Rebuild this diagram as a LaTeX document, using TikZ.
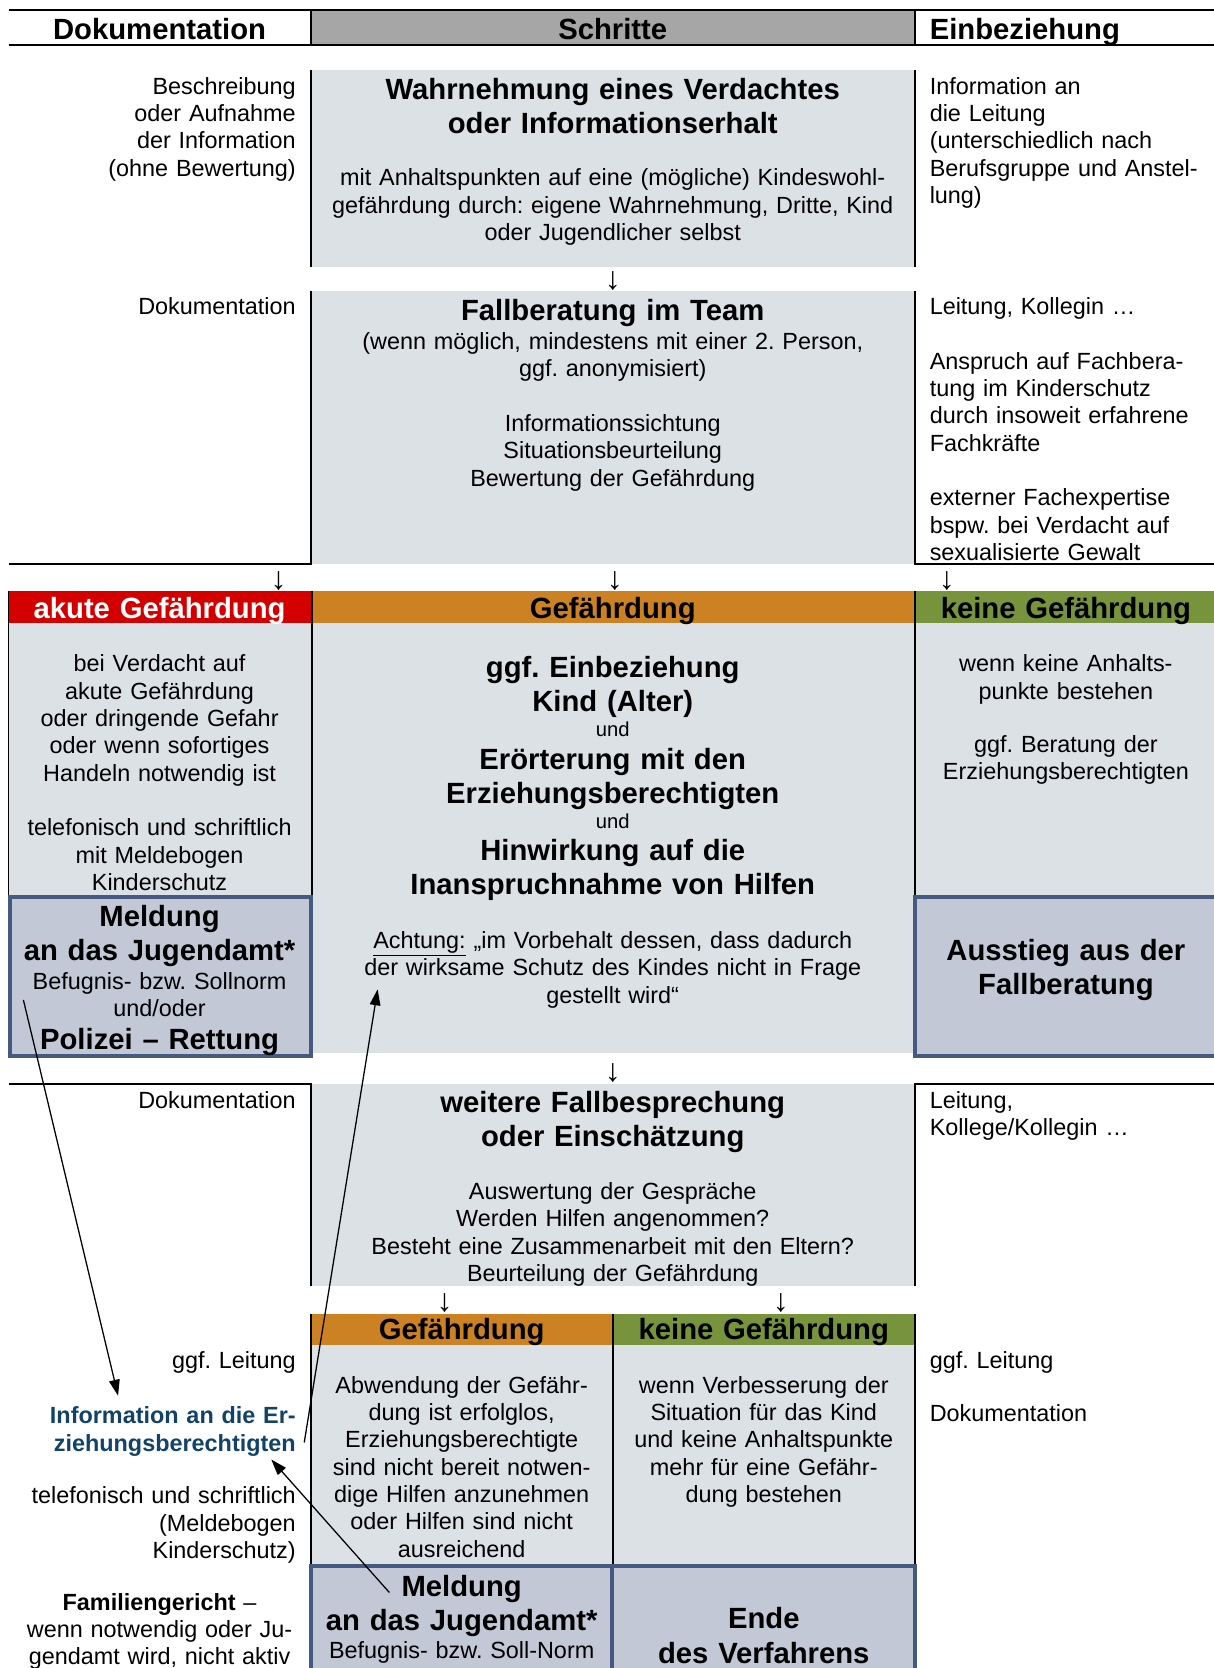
\documentclass[tikz,border=0pt]{standalone}
\usepackage{fontspec}
\setmainfont{Liberation Sans}
\usetikzlibrary{arrows.meta}
\frenchspacing
\definecolor{cellgray}{RGB}{220,225,230}
\definecolor{headgray}{RGB}{166,166,166}
\definecolor{acred}{RGB}{212,0,0}
\definecolor{orng}{RGB}{204,130,34}
\definecolor{grn}{RGB}{119,147,60}
\definecolor{bluefill}{RGB}{194,200,214}
\definecolor{blueline}{RGB}{68,90,128}
\definecolor{infoblue}{RGB}{16,66,106}
\begin{document}
\begin{tikzpicture}[x=1pt,y=-1pt,
  every node/.style={inner sep=0pt,outer sep=0pt},
  body/.style={font=\frenchspacing\fontsize{22}{25.7}\selectfont},
  ttl/.style={font=\frenchspacing\bfseries\fontsize{27.5}{32}\selectfont},
  smalltxt/.style={font=\fontsize{19}{22}\selectfont},
  ctr/.style={align=center,text width=#1,anchor=base},
  ctr/.default=600pt,
  rgt/.style={align=right,text width=285pt,anchor=base east},
  lft/.style={align=left,text width=300pt,anchor=base west},
  rulel/.style={line width=1.8pt,black},
  bluebox/.style={draw=blueline,line width=3.7pt,fill=bluefill},
  dn/.style={font=\fontsize{30}{30}\selectfont,anchor=center},
  longarrow/.style={line width=1.2pt,-{Triangle[length=15pt,width=10pt]}}
]
\useasboundingbox (0,0) rectangle (1141,1568);
\clip (0,0) rectangle (1141,1568);

% ---------- fills ----------
\fill[headgray] (292,9) rectangle (860,42);
\fill[cellgray] (292,66) rectangle (860,251);
\fill[cellgray] (292,274) rectangle (860,530);
\fill[acred] (8,556) rectangle (292,586);
\fill[orng] (292,556) rectangle (860,586);
\fill[grn] (860,556) rectangle (1150,586);
\fill[cellgray] (8,586) rectangle (293,842);
\fill[cellgray] (293,586) rectangle (860,990);
\fill[cellgray] (860,586) rectangle (1150,842);
\fill[cellgray] (292,1019) rectangle (860,1209);
\fill[orng] (292,1235) rectangle (576,1264);
\fill[grn] (576,1235) rectangle (860,1264);
\fill[cellgray] (292,1264) rectangle (860,1470);

% ---------- rules ----------
\draw[rulel] (8,9) -- (1150,9);
\draw[rulel] (8,42) -- (1150,42);
\draw[rulel] (292,9) -- (292,42);
\draw[rulel] (860,9) -- (860,42);
\draw[rulel] (292,66) -- (292,251);
\draw[rulel] (860,66) -- (860,251);
\draw[rulel] (8,530) -- (292,530) -- (292,274);
\draw[rulel] (1150,530) -- (860,530) -- (860,274);
\draw[rulel] (8,556) -- (8,842);
\draw[rulel] (293,556) -- (293,842);
\draw[rulel] (860,556) -- (860,842);
\draw[rulel] (8,1019) -- (292,1019) -- (292,1209);
\draw[rulel] (1150,1019) -- (860,1019) -- (860,1209);
\draw[rulel] (292,1235) -- (292,1470);
\draw[rulel] (576,1235) -- (576,1470);
\draw[rulel] (860,1235) -- (860,1470);

% ---------- blue boxes ----------
\draw[bluebox] (9.5,843) rectangle (292,992.5);
\draw[bluebox] (860.5,843) rectangle (1160,992.5);
\draw[bluebox] (292.5,1471.7) rectangle (575.7,1600);
\draw[bluebox] (575.7,1471.7) rectangle (860,1600);

\begin{scope}[yshift=-2pt]
% ---------- header ----------
\node[ttl,ctr=280pt] (hDok) at (150,35) {Dokumentation};
\node[ttl,ctr] (hSch) at (576,35) {Schritte};
\node[ttl,lft] (hEin) at (874,35) {Einbeziehung};

% ---------- row 1 ----------
\node[ttl,ctr] (t1) at (576,91.3) {Wahrnehmung eines Verdachtes\\oder Informationserhalt};
\node[body,ctr] (t1b) at (576,172.6) {mit Anhaltspunkten auf eine (mögliche) Kindeswohl-\\gefährdung durch: eigene Wahrnehmung, Dritte, Kind\\oder Jugendlicher selbst};
\node[body,rgt] (d1) at (278,86.6) {Beschreibung\\oder Aufnahme\\der Information\\(ohne Bewertung)};
\node[body,lft] (e1) at (874,86.6) {Information an\\die Leitung\\(unterschiedlich nach\\Berufsgruppe und Anstel-\\lung)};
\node[dn] (ar1) at (576,262) {↓};

% ---------- row 2 ----------
\node[ttl,ctr] (t2) at (576,299.3) {Fallberatung im Team};
\node[body,ctr] (t2b) at (576,326.6) {(wenn möglich, mindestens mit einer 2. Person,\\ggf. anonymisiert)\\[25.7pt]Informationssichtung\\Situationsbeurteilung\\Bewertung der Gefährdung};
\node[body,rgt] (d2) at (278,293.6) {Dokumentation};
\node[body,lft] (e2) at (874,293.6) {Leitung, Kollegin …\\[25.7pt]Anspruch auf Fachbera-\\tung im Kinderschutz\\durch insoweit erfahrene\\Fachkräfte\\[25.7pt]externer Fachexpertise\\bspw. bei Verdacht auf\\sexualisierte Gewalt};
\node[dn] (ar2) at (262,544) {↓};
\node[dn] (ar3) at (578,544) {↓};
\node[dn] (ar4) at (890,544) {↓};

% ---------- row 3 ----------
\node[ttl,ctr=284pt,text=white] (h3a) at (150,579) {akute Gefährdung};
\node[ttl,ctr] (h3b) at (576,579) {Gefährdung};
\node[ttl,ctr=281pt] (h3c) at (1002,579) {keine Gefährdung};
\node[body,ctr=284pt] (c3a) at (150,629.6) {bei Verdacht auf\\akute Gefährdung\\oder dringende Gefahr\\oder wenn sofortiges\\Handeln notwendig ist\\[25.7pt]telefonisch und schriftlich\\mit Meldebogen\\Kinderschutz};
\node[ttl,ctr=284pt] (m3a) at (150,869) {Meldung\\an das Jugendamt*};
\node[body,ctr=284pt] (m3b) at (150,928) {Befugnis- bzw. Sollnorm\\und/oder};
\node[ttl,ctr=284pt] (m3c) at (150,985) {Polizei – Rettung};
\node[ttl,ctr] (g1) at (576,635) {ggf. Einbeziehung\\Kind (Alter)};
\node[smalltxt,ctr] (u1) at (576,690.7) {und};
\node[ttl,ctr] (g2) at (576,721) {Erörterung mit den\\Erziehungsberechtigten};
\node[smalltxt,ctr] (u2) at (576,776.7) {und};
\node[ttl,ctr] (g3) at (576,807) {Hinwirkung auf die\\Inanspruchnahme von Hilfen};
\node[body,ctr] (g4) at (576,889.6) {\underline{Achtung:} „im Vorbehalt dessen, dass dadurch\\der wirksame Schutz des Kindes nicht in Frage\\gestellt wird“};
\node[body,ctr=281pt] (c3c) at (1002,629.6) {wenn keine Anhalts-\\punkte bestehen\\[24pt]ggf. Beratung der\\Erziehungsberechtigten};
\node[ttl,ctr=281pt] (m3d) at (1002,901) {Ausstieg aus der\\Fallberatung};
\node[dn] (ar5) at (576,1007) {↓};

% ---------- row 4 ----------
\node[ttl,ctr] (t4) at (576,1044) {weitere Fallbesprechung\\oder Einschätzung};
\node[body,ctr] (t4b) at (576,1125.6) {Auswertung der Gespräche\\Werden Hilfen angenommen?\\Besteht eine Zusammenarbeit mit den Eltern?\\Beurteilung der Gefährdung};
\node[body,rgt] (d4) at (278,1039.6) {Dokumentation};
\node[body,lft] (e4) at (874,1039.6) {Leitung,\\Kollege/Kollegin …};
\node[dn] (ar6) at (418,1223) {↓};
\node[dn] (ar7) at (734,1223) {↓};

% ---------- row 5 ----------
\node[ttl,ctr=284pt] (h5a) at (434,1257) {Gefährdung};
\node[ttl,ctr=284pt] (h5b) at (718,1257) {keine Gefährdung};
\node[body,ctr=284pt] (c5a) at (434,1307.6) {Abwendung der Gefähr-\\dung ist erfolglos,\\Erziehungsberechtigte\\sind nicht bereit notwen-\\dige Hilfen anzunehmen\\oder Hilfen sind nicht\\ausreichend};
\node[body,ctr=284pt] (c5b) at (718,1307.6) {wenn Verbesserung der\\Situation für das Kind\\und keine Anhaltspunkte\\mehr für eine Gefähr-\\dung bestehen};
\node[ttl,ctr=284pt] (m5a) at (434,1498.3) {Meldung\\an das Jugendamt*};
\node[body,ctr=284pt] (m5b) at (434,1556.6) {Befugnis- bzw. Soll-Norm};
\node[ttl,ctr=284pt] (m5c) at (718,1529.3) {Ende\\des Verfahrens};
\node[body,rgt] (d5a) at (278,1284.6) {ggf. Leitung};
\node[body,rgt,font=\frenchspacing\bfseries\fontsize{22}{25.7}\selectfont,text=infoblue] (info) at (278,1336.6) {Information an die Er-\\ziehungsberechtigten};
\node[body,rgt] (d5b) at (278,1411.6) {telefonisch und schriftlich\\(Meldebogen\\Kinderschutz)};
\node[body,ctr=290pt] (d5c) at (150,1511.6) {\textbf{Familiengericht} –\\wenn notwendig oder Ju-\\gendamt wird, nicht aktiv};
\node[body,lft] (e5) at (874,1284.6) {ggf. Leitung\\[24pt]Dokumentation};
\end{scope}

% ---------- long arrows ----------
\coordinate (pA) at (22,940);
\coordinate (pAe) at (111,1312);
\coordinate (pB) at (286,1356);
\coordinate (pBe) at (355,930);
\coordinate (pC) at (366,1497);
\coordinate (pCe) at (255,1372);
\draw[longarrow] (pA) -- (pAe);
\draw[longarrow] (pB) -- (pBe);
\draw[longarrow] (pC) -- (pCe);
\end{tikzpicture}
\end{document}
